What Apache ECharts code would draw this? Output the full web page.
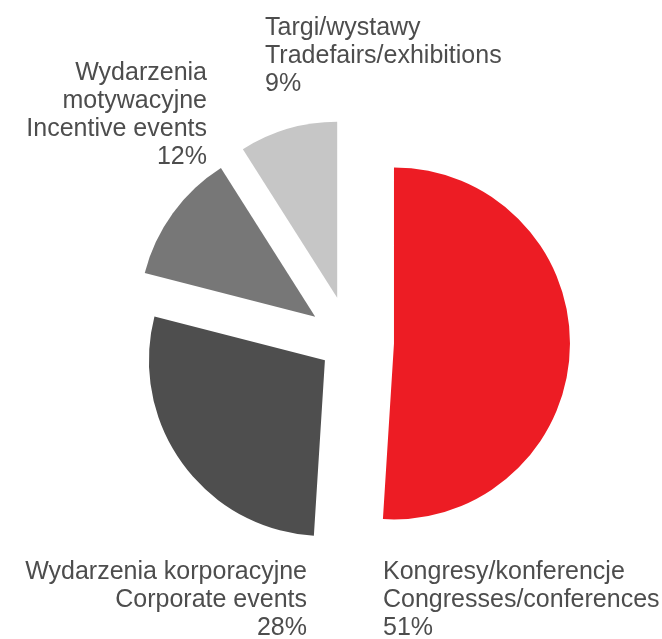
<!DOCTYPE html>
<html>
<head>
<meta charset="utf-8">
<title>Pie</title>
<script src="https://cdn.jsdelivr.net/npm/echarts@6/dist/echarts.min.js"></script>
<style>
  html, body { margin: 0; padding: 0; background: #fff; }
  #main { width: 662px; height: 639px; }
</style>
</head>
<body>
<div id="main"></div>
<script>
// data
var names = [
  "Kongresy/konferencje\nCongresses/conferences",
  "Wydarzenia korporacyjne\nCorporate events",
  "Wydarzenia\nmotywacyjne\nIncentive events",
  "Targi/wystawy\nTradefairs/exhibitions"
];
var values = [51, 28, 12, 9];

// styles
var colors = ["#ed1c24", "#4e4e4e", "#777777", "#c6c6c6"];
var offsets = [44, 31, 43, 46]; // explode distance of each slice
var labelPos = [
  { x: 383, y: 558, align: "left" },
  { x: 307, y: 558, align: "right" },
  { x: 207, y: 59, align: "right" },
  { x: 265, y: 14, align: "left" }
];
var pieCenter = [350, 342];
var pieRadius = 176;
var startAngle = 90;

var myChart = echarts.init(document.getElementById("main"));

var total = 0;
for (var k = 0; k < values.length; k++) total += values[k];

// one pie per slice (others transparent), each moved out along its bisector
var series = [];
var acc = 0;
for (var i = 0; i < values.length; i++) {
  (function (i, before) {
    var mid = (startAngle - 360 * (before + values[i] / 2) / total) * Math.PI / 180;
    var c = [
      pieCenter[0] + offsets[i] * Math.cos(mid),
      pieCenter[1] - offsets[i] * Math.sin(mid)
    ];
    var data = [];
    for (var j = 0; j < values.length; j++) {
      var own = j === i;
      data.push({
        name: names[j],
        value: values[j],
        itemStyle: { color: own ? colors[j] : "rgba(0,0,0,0)" },
        label: { show: own }
      });
    }
    series.push({
      type: "pie",
      center: c,
      radius: [0, pieRadius],
      startAngle: startAngle,
      clockwise: true,
      avoidLabelOverlap: false,
      silent: true,
      animation: false,
      emphasis: { disabled: true },
      itemStyle: { borderWidth: 0 },
      label: {
        position: "outside",
        formatter: function (p) {
          return p.name + "\n" + p.value + "%";
        },
        fontFamily: "Liberation Sans, Arial, sans-serif",
        fontSize: 25,
        lineHeight: 28,
        color: "#4d4d4d"
      },
      labelLine: { show: false },
      labelLayout: function () {
        return {
          x: labelPos[i].x,
          y: labelPos[i].y,
          align: labelPos[i].align,
          verticalAlign: "top"
        };
      },
      data: data
    });
  })(i, acc);
  acc += values[i];
}

myChart.setOption({
  animation: false,
  series: series
});
</script>
</body>
</html>
